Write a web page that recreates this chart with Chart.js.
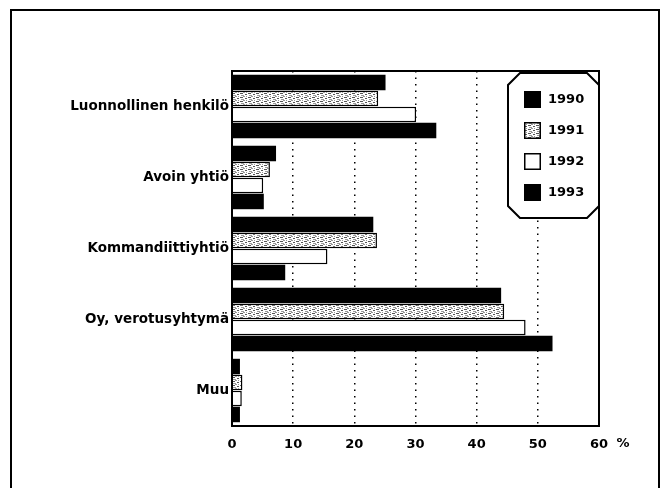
<!DOCTYPE html>
<html><head><meta charset="utf-8">
<script src="https://cdn.jsdelivr.net/npm/chart.js@4"></script>
<style>html,body{margin:0;padding:0;background:#fff;}canvas{display:block;}</style>
</head><body>
<canvas id="c" width="664" height="488"></canvas>
<script>
const categories = ["Luonnollinen henkilö", "Avoin yhtiö", "Kommandiittiyhtiö", "Oy, verotusyhtymä", "Muu"];
const years = ["1990", "1991", "1992", "1993"];
const values1990 = [25.1, 7.2, 23.1, 44.0, 1.3];
const values1991 = [23.9, 6.2, 23.7, 44.5, 1.7];
const values1992 = [30.1, 5.1, 15.6, 48.0, 1.6];
const values1993 = [33.4, 5.2, 8.7, 52.4, 1.3];
const xMin = 0, xMax = 60, xStep = 10;
const unitLabel = "%";

const FONT = "'DejaVu Sans', sans-serif";

function makePattern() {
  const c = document.createElement('canvas');
  c.width = 8; c.height = 4;
  const x = c.getContext('2d');
  x.fillStyle = '#fff'; x.fillRect(0, 0, 8, 4);
  x.fillStyle = '#555'; x.fillRect(0, 1, 3, 1); x.fillRect(5, 2, 2, 1);
  x.fillStyle = '#999'; x.fillRect(3, 0, 2, 1); x.fillRect(1, 3, 3, 1); x.fillRect(6, 0, 1, 1);
  return x.createPattern(c, 'repeat');
}
const pattern1991 = makePattern();

const frame = {
  id: 'frame',
  beforeDraw(chart) {
    const ctx = chart.ctx;
    ctx.save();
    ctx.fillStyle = '#fff';
    ctx.fillRect(0, 0, chart.width, chart.height);
    ctx.strokeStyle = '#000';
    ctx.lineWidth = 2;
    ctx.beginPath();
    ctx.moveTo(11, chart.height);
    ctx.lineTo(11, 10);
    ctx.lineTo(659, 10);
    ctx.lineTo(659, chart.height);
    ctx.stroke();
    ctx.restore();
  },
  afterDatasetsDraw(chart) {
    const ctx = chart.ctx, a = chart.chartArea;
    ctx.save();
    ctx.strokeStyle = '#000';
    ctx.lineWidth = 2;
    ctx.strokeRect(a.left, a.top, a.right - a.left, a.bottom - a.top);
    ctx.restore();
  },
  afterDraw(chart) {
    const ctx = chart.ctx, a = chart.chartArea;
    const xs = chart.scales.x;
    // unit label
    ctx.save();
    ctx.fillStyle = '#000';
    ctx.font = 'bold 13px ' + FONT;
    ctx.textAlign = 'center';
    ctx.textBaseline = 'middle';
    ctx.fillText(unitLabel, xs.getPixelForValue(xMax) + 24, a.bottom + 18);
    // legend
    const R = a.right, L = R - 91, T = a.top + 2, B = a.top + 147, c = 12;
    ctx.fillStyle = '#fff';
    ctx.strokeStyle = '#000';
    ctx.lineWidth = 2;
    ctx.beginPath();
    ctx.moveTo(L + c, T); ctx.lineTo(R - c, T); ctx.lineTo(R, T + c); ctx.lineTo(R, B - c);
    ctx.lineTo(R - c, B); ctx.lineTo(L + c, B); ctx.lineTo(L, B - c); ctx.lineTo(L, T + c);
    ctx.closePath(); ctx.fill(); ctx.stroke();
    chart.data.datasets.forEach((ds, i) => {
      const y = T + 26 + i * 31;
      const sx = L + 16;
      ctx.fillStyle = ds.backgroundColor;
      ctx.fillRect(sx, y - 8, 17, 17);
      if (ds.borderWidth) {
        ctx.lineWidth = 1.5;
        ctx.strokeStyle = '#000';
        ctx.strokeRect(sx + 0.75, y - 7.25, 15.5, 15.5);
      }
      ctx.fillStyle = '#000';
      ctx.font = 'bold 13px ' + FONT;
      ctx.textAlign = 'left';
      ctx.textBaseline = 'middle';
      ctx.fillText(ds.label, sx + 24, y + 1);
    });
    ctx.restore();
  }
};

new Chart(document.getElementById('c'), {
  type: 'bar',
  data: {
    labels: categories,
    datasets: [
      { label: years[0], data: values1990, backgroundColor: '#000', borderWidth: 0 },
      { label: years[1], data: values1991, backgroundColor: pattern1991, borderColor: '#000', borderWidth: 1.5 },
      { label: years[2], data: values1992, backgroundColor: '#fff', borderColor: '#000', borderWidth: 1.5 },
      { label: years[3], data: values1993, backgroundColor: '#000', borderWidth: 0 }
    ]
  },
  options: {
    indexAxis: 'y',
    responsive: false,
    animation: false,
    devicePixelRatio: 1,
    categoryPercentage: 0.9,
    barPercentage: 0.97,
    layout: { padding: { left: 0, top: 71, right: 65, bottom: 32 } },
    plugins: { legend: { display: false }, tooltip: { enabled: false } },
    scales: {
      x: {
        min: xMin, max: xMax,
        ticks: { stepSize: xStep, color: '#000', padding: 11, font: { family: FONT, size: 13, weight: 'bold' } },
        grid: {
          drawTicks: false,
          lineWidth: 1.5,
          color: (ctx) => (ctx.tick && (ctx.tick.value === xMin || ctx.tick.value === xMax)) ? 'rgba(0,0,0,0)' : '#000'
        },
        border: { display: false, dash: [1.5, 5] },
        afterFit(scale) { scale.height = 30; }
      },
      y: {
        ticks: { color: '#000', padding: 3, font: { family: FONT, size: 13.5, weight: 'bold' } },
        grid: { display: false, drawTicks: false },
        border: { display: false },
        afterFit(scale) { scale.width = 232; }
      }
    }
  },
  plugins: [frame]
});
</script>
</body></html>
